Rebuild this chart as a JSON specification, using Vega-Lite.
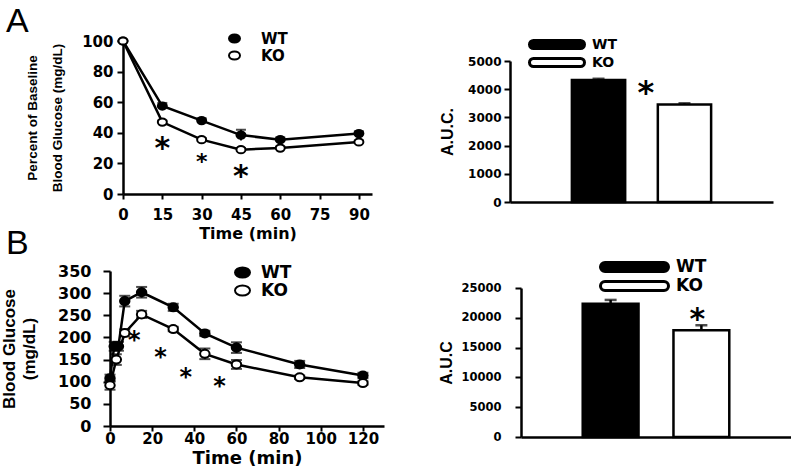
{
  "$schema": "https://vega.github.io/schema/vega-lite/v6.json",
  "background": "white",
  "padding": {"left": 0, "top": 5, "right": 0, "bottom": 0},
  "columns": 2,
  "bounds": "flush",
  "align": "each",
  "spacing": {"row": 69, "column": 126},
  "resolve": {"scale": {"fill": "independent"}, "legend": {"fill": "independent"}},
  "config": {
    "view": {"stroke": null},
    "font": "Liberation Sans",
    "axis": {"grid": false, "domainColor": "black", "domainWidth": 2.5, "tickColor": "black", "tickWidth": 2, "labelColor": "black", "titleColor": "black", "labelFlush": false, "labelOverlap": false},
    "legend": {"padding": 0}
  },
  "datasets": {
    "lineA": [
      {"t": 0, "g": "WT", "m": 100, "lo": 100, "hi": 100},
      {"t": 15, "g": "WT", "m": 57.5, "lo": 55.5, "hi": 59.5},
      {"t": 30, "g": "WT", "m": 48, "lo": 46.5, "hi": 49.5},
      {"t": 45, "g": "WT", "m": 38.5, "lo": 35, "hi": 42},
      {"t": 60, "g": "WT", "m": 35.5, "lo": 34, "hi": 37},
      {"t": 90, "g": "WT", "m": 39.5, "lo": 38, "hi": 41},
      {"t": 0, "g": "KO", "m": 100, "lo": 100, "hi": 100},
      {"t": 15, "g": "KO", "m": 47, "lo": 46, "hi": 48},
      {"t": 30, "g": "KO", "m": 35.5, "lo": 34.5, "hi": 36.5},
      {"t": 45, "g": "KO", "m": 29, "lo": 28, "hi": 30},
      {"t": 60, "g": "KO", "m": 30, "lo": 29, "hi": 31},
      {"t": 90, "g": "KO", "m": 34, "lo": 33, "hi": 35}
    ],
    "starsAbig": [{"t": 15, "m": 32}, {"t": 45, "m": 13.5}],
    "starsAsmall": [{"t": 30, "m": 22.5}],
    "barA": [{"g": "WT", "m": 4330, "lo": 4330, "hi": 4370}, {"g": "KO", "m": 3460, "lo": 3460, "hi": 3500}],
    "starA": [{"g": "KO", "m": 4000}],
    "lineB": [
      {"t": 0, "g": "WT", "m": 108, "lo": 100, "hi": 116},
      {"t": 2, "g": "WT", "m": 180, "lo": 170, "hi": 190},
      {"t": 4, "g": "WT", "m": 180, "lo": 170, "hi": 190},
      {"t": 7, "g": "WT", "m": 282, "lo": 270, "hi": 294},
      {"t": 15, "g": "WT", "m": 302, "lo": 290, "hi": 314},
      {"t": 30, "g": "WT", "m": 268, "lo": 260, "hi": 276},
      {"t": 45, "g": "WT", "m": 209, "lo": 203, "hi": 215},
      {"t": 60, "g": "WT", "m": 177, "lo": 165, "hi": 189},
      {"t": 90, "g": "WT", "m": 139, "lo": 131, "hi": 147},
      {"t": 120, "g": "WT", "m": 114, "lo": 108, "hi": 120},
      {"t": 0, "g": "KO", "m": 92, "lo": 82, "hi": 102},
      {"t": 3, "g": "KO", "m": 150, "lo": 138, "hi": 162},
      {"t": 7, "g": "KO", "m": 210, "lo": 202, "hi": 218},
      {"t": 15, "g": "KO", "m": 252, "lo": 244, "hi": 260},
      {"t": 30, "g": "KO", "m": 219, "lo": 214, "hi": 224},
      {"t": 45, "g": "KO", "m": 163, "lo": 151, "hi": 175},
      {"t": 60, "g": "KO", "m": 139, "lo": 129, "hi": 149},
      {"t": 90, "g": "KO", "m": 110, "lo": 106, "hi": 114},
      {"t": 120, "g": "KO", "m": 97, "lo": 93, "hi": 101}
    ],
    "starsB": [{"t": 11.5, "m": 200}, {"t": 24, "m": 162}, {"t": 36, "m": 116}, {"t": 52, "m": 97}],
    "barB": [{"g": "WT", "m": 22350, "lo": 22350, "hi": 23000}, {"g": "KO", "m": 17900, "lo": 17900, "hi": 18750}],
    "starB": [{"g": "KO", "m": 20300}]
  },
  "concat": [
    {
      "width": 263,
      "height": 153,
      "title": {"text": "A", "anchor": "start", "frame": "group", "orient": "top", "offset": 0, "dx": -104, "dy": 8, "font": "Liberation Sans", "fontSize": 34, "fontWeight": "normal", "color": "black"},
      "encoding": {
        "x": {"field": "t", "type": "quantitative", "title": "Time (min)", "scale": {"domain": [0, 95], "range": [13, 262], "nice": false, "zero": false},
          "axis": {"values": [0, 15, 30, 45, 60, 75, 90], "labelOverlap": false, "titleFont": "DejaVu Sans", "titleFontSize": 16, "titleFontWeight": "bold", "titlePadding": 3, "labelFont": "DejaVu Sans", "labelFontSize": 15, "labelFontWeight": "bold", "labelPadding": 8, "tickSize": 5}},
        "y": {"field": "m", "type": "quantitative", "title": ["Percent of Baseline", "Blood Glucose (mg/dL)"], "scale": {"domain": [0, 100], "nice": false},
          "axis": {"values": [0, 20, 40, 60, 80, 100], "labelOverlap": false, "offset": -13, "titleFont": "Liberation Sans", "titleFontSize": 13.5, "titleFontWeight": "bold", "titleLineHeight": 25, "titlePadding": 17, "labelFont": "DejaVu Sans", "labelFontSize": 15, "labelFontWeight": "bold", "labelPadding": 4, "tickSize": 6}}
      },
      "layer": [
        {"data": {"name": "lineA"}, "mark": {"type": "line", "color": "black", "strokeWidth": 2.5},
          "encoding": {"detail": {"field": "g"}}},
        {"data": {"name": "lineA"}, "mark": {"type": "rule", "color": "black", "strokeWidth": 2},
          "encoding": {"y": {"field": "lo", "type": "quantitative", "title": ["Percent of Baseline", "Blood Glucose (mg/dL)"], "scale": {"domain": [0, 100], "nice": false},
            "axis": {"values": [0, 20, 40, 60, 80, 100], "labelOverlap": false, "offset": -13, "titleFont": "Liberation Sans", "titleFontSize": 13.5, "titleFontWeight": "bold", "titleLineHeight": 25, "titlePadding": 17, "labelFont": "DejaVu Sans", "labelFontSize": 15, "labelFontWeight": "bold", "labelPadding": 4, "tickSize": 6}},
            "y2": {"field": "hi"}}},
        {"data": {"name": "lineA"}, "mark": {"type": "tick", "orient": "horizontal", "color": "black", "size": 10, "thickness": 2},
          "encoding": {"y": {"field": "hi", "type": "quantitative", "title": ["Percent of Baseline", "Blood Glucose (mg/dL)"], "scale": {"domain": [0, 100], "nice": false},
            "axis": {"values": [0, 20, 40, 60, 80, 100], "labelOverlap": false, "offset": -13, "titleFont": "Liberation Sans", "titleFontSize": 13.5, "titleFontWeight": "bold", "titleLineHeight": 25, "titlePadding": 17, "labelFont": "DejaVu Sans", "labelFontSize": 15, "labelFontWeight": "bold", "labelPadding": 4, "tickSize": 6}}}},
        {"data": {"name": "lineA"}, "mark": {"type": "point", "shape": "M-1,0A1,0.8,0,1,0,1,0A1,0.8,0,1,0,-1,0Z", "size": 81, "stroke": "black", "strokeWidth": 2, "opacity": 1},
          "encoding": {
            "fill": {"field": "g", "type": "nominal", "scale": {"domain": ["WT", "KO"], "range": ["black", "white"]},
              "legend": {"title": null, "orient": "none", "legendX": 117, "legendY": -10, "symbolType": "M-1,0A1,0.73,0,1,0,1,0A1,0.73,0,1,0,-1,0Z", "symbolSize": 121, "symbolStrokeColor": "black", "symbolStrokeWidth": 2, "symbolOpacity": 1, "labelFont": "DejaVu Sans", "labelFontWeight": "bold", "labelFontSize": 15, "labelColor": "black", "labelOffset": 19, "rowPadding": 0}}}},
        {"data": {"name": "starsAbig"}, "mark": {"type": "text", "text": "*", "font": "DejaVu Sans", "fontWeight": "bold", "fontSize": 30, "baseline": "alphabetic", "dy": 13, "color": "black"}},
        {"data": {"name": "starsAsmall"}, "mark": {"type": "text", "text": "*", "font": "DejaVu Sans", "fontWeight": "bold", "fontSize": 22, "baseline": "alphabetic", "dy": 9.5, "color": "black"}}
      ]
    },
    {
      "width": 263,
      "height": 161,
      "encoding": {
        "x": {"field": "g", "type": "nominal", "title": null, "sort": ["WT", "KO"], "scale": {"domain": ["WT", "KO"], "paddingInner": 0.38, "paddingOuter": 0.72},
          "axis": {"labels": false, "ticks": false}},
        "y": {"field": "m", "type": "quantitative", "title": "A.U.C.", "scale": {"domain": [0, 5000], "range": [161, 20], "nice": false},
          "axis": {"values": [0, 1000, 2000, 3000, 4000, 5000], "format": "d", "labelOverlap": false, "titleFont": "Liberation Sans", "titleFontSize": 16, "titleFontWeight": "bold", "titlePadding": 12, "labelFont": "DejaVu Sans", "labelFontSize": 12, "labelFontWeight": "bold", "labelPadding": 3, "tickSize": 6}}
      },
      "layer": [
        {"data": {"name": "barA"}, "mark": {"type": "bar", "stroke": "black", "strokeWidth": 2.5},
          "encoding": {
            "fill": {"field": "g", "type": "nominal", "scale": {"domain": ["WT", "KO"], "range": ["black", "white"]},
              "legend": {"title": null, "orient": "none", "legendX": 39.5, "legendY": -4, "symbolType": "M-3.916,-0.667L3.916,-0.667A0.667,0.667,0,0,1,3.916,0.667L-3.916,0.667A0.667,0.667,0,0,1,-3.916,-0.667Z", "symbolSize": 144, "symbolStrokeColor": "black", "symbolStrokeWidth": 3, "symbolOpacity": 1, "labelFont": "DejaVu Sans", "labelFontWeight": "bold", "labelFontSize": 14, "labelColor": "black", "labelOffset": 27.5, "rowPadding": -9}}}},
        {"data": {"name": "barA"}, "mark": {"type": "rule", "color": "black", "strokeWidth": 2.5},
          "encoding": {"y": {"field": "lo", "type": "quantitative", "title": "A.U.C.", "scale": {"domain": [0, 5000], "range": [161, 20], "nice": false},
            "axis": {"values": [0, 1000, 2000, 3000, 4000, 5000], "format": "d", "labelOverlap": false, "titleFont": "Liberation Sans", "titleFontSize": 16, "titleFontWeight": "bold", "titlePadding": 12, "labelFont": "DejaVu Sans", "labelFontSize": 12, "labelFontWeight": "bold", "labelPadding": 3, "tickSize": 6}},
            "y2": {"field": "hi"}}},
        {"data": {"name": "barA"}, "mark": {"type": "tick", "orient": "horizontal", "color": "black", "size": 12, "thickness": 2.5},
          "encoding": {"y": {"field": "hi", "type": "quantitative", "title": "A.U.C.", "scale": {"domain": [0, 5000], "range": [161, 20], "nice": false},
            "axis": {"values": [0, 1000, 2000, 3000, 4000, 5000], "format": "d", "labelOverlap": false, "titleFont": "Liberation Sans", "titleFontSize": 16, "titleFontWeight": "bold", "titlePadding": 12, "labelFont": "DejaVu Sans", "labelFontSize": 12, "labelFontWeight": "bold", "labelPadding": 3, "tickSize": 6}}}},
        {"data": {"name": "starA"}, "mark": {"type": "text", "text": "*", "font": "DejaVu Sans", "fontWeight": "bold", "fontSize": 32, "baseline": "alphabetic", "dy": 14, "dx": -12, "color": "black"},
          "encoding": {"x": {"field": "g", "type": "nominal", "title": null, "bandPosition": 0, "sort": ["WT", "KO"], "scale": {"domain": ["WT", "KO"], "paddingInner": 0.38, "paddingOuter": 0.72}, "axis": {"labels": false, "ticks": false}}}}
      ]
    },
    {
      "width": 274,
      "height": 155,
      "title": {"text": "B", "anchor": "start", "frame": "group", "orient": "top", "offset": 0, "dx": -104, "dy": -2, "font": "Liberation Sans", "fontSize": 34, "fontWeight": "normal", "color": "black"},
      "encoding": {
        "x": {"field": "t", "type": "quantitative", "title": "Time (min)", "scale": {"domain": [0, 130], "nice": false, "zero": false},
          "axis": {"values": [0, 20, 40, 60, 80, 100, 120], "labelOverlap": false, "titleFont": "DejaVu Sans", "titleFontSize": 18, "titleFontWeight": "bold", "titlePadding": 3, "labelFont": "DejaVu Sans", "labelFontSize": 15, "labelFontWeight": "bold", "labelPadding": 0, "tickSize": 5}},
        "y": {"field": "m", "type": "quantitative", "title": ["Blood Glucose", "(mg/dL)"], "scale": {"domain": [0, 350], "nice": false},
          "axis": {"values": [0, 50, 100, 150, 200, 250, 300, 350], "labelOverlap": false, "titleFont": "Liberation Sans", "titleFontSize": 17, "titleFontWeight": "bold", "titleLineHeight": 20, "titlePadding": 19, "labelFont": "DejaVu Sans", "labelFontSize": 16, "labelFontWeight": "bold", "labelPadding": 12, "tickSize": 7}}
      },
      "layer": [
        {"data": {"name": "lineB"}, "mark": {"type": "line", "color": "black", "strokeWidth": 2.5},
          "encoding": {"detail": {"field": "g"}}},
        {"data": {"name": "lineB"}, "mark": {"type": "rule", "color": "black", "strokeWidth": 2},
          "encoding": {"y": {"field": "lo", "type": "quantitative", "title": ["Blood Glucose", "(mg/dL)"], "scale": {"domain": [0, 350], "nice": false},
            "axis": {"values": [0, 50, 100, 150, 200, 250, 300, 350], "labelOverlap": false, "titleFont": "Liberation Sans", "titleFontSize": 17, "titleFontWeight": "bold", "titleLineHeight": 20, "titlePadding": 19, "labelFont": "DejaVu Sans", "labelFontSize": 16, "labelFontWeight": "bold", "labelPadding": 12, "tickSize": 7}},
            "y2": {"field": "hi"}}},
        {"data": {"name": "lineB"}, "mark": {"type": "tick", "orient": "horizontal", "color": "black", "size": 11, "thickness": 2},
          "encoding": {"y": {"field": "hi", "type": "quantitative", "title": ["Blood Glucose", "(mg/dL)"], "scale": {"domain": [0, 350], "nice": false},
            "axis": {"values": [0, 50, 100, 150, 200, 250, 300, 350], "labelOverlap": false, "titleFont": "Liberation Sans", "titleFontSize": 17, "titleFontWeight": "bold", "titleLineHeight": 20, "titlePadding": 19, "labelFont": "DejaVu Sans", "labelFontSize": 16, "labelFontWeight": "bold", "labelPadding": 12, "tickSize": 7}}}},
        {"data": {"name": "lineB"}, "mark": {"type": "tick", "orient": "horizontal", "color": "black", "size": 11, "thickness": 2},
          "encoding": {"y": {"field": "lo", "type": "quantitative", "title": ["Blood Glucose", "(mg/dL)"], "scale": {"domain": [0, 350], "nice": false},
            "axis": {"values": [0, 50, 100, 150, 200, 250, 300, 350], "labelOverlap": false, "titleFont": "Liberation Sans", "titleFontSize": 17, "titleFontWeight": "bold", "titleLineHeight": 20, "titlePadding": 19, "labelFont": "DejaVu Sans", "labelFontSize": 16, "labelFontWeight": "bold", "labelPadding": 12, "tickSize": 7}}}},
        {"data": {"name": "lineB"}, "mark": {"type": "point", "shape": "M-1,0A1,0.85,0,1,0,1,0A1,0.85,0,1,0,-1,0Z", "size": 90, "stroke": "black", "strokeWidth": 2, "opacity": 1},
          "encoding": {
            "fill": {"field": "g", "type": "nominal", "scale": {"domain": ["WT", "KO"], "range": ["black", "white"]},
              "legend": {"title": null, "orient": "none", "legendX": 124, "legendY": -7, "symbolType": "M-1,0A1,0.67,0,1,0,1,0A1,0.67,0,1,0,-1,0Z", "symbolSize": 225, "symbolStrokeColor": "black", "symbolStrokeWidth": 2, "symbolOpacity": 1, "labelFont": "DejaVu Sans", "labelFontWeight": "bold", "labelFontSize": 17, "labelColor": "black", "labelOffset": 10, "rowPadding": -1}}}},
        {"data": {"name": "starsB"}, "mark": {"type": "text", "text": "*", "font": "DejaVu Sans", "fontWeight": "bold", "fontSize": 24, "baseline": "alphabetic", "dy": 10.5, "color": "black"}}
      ]
    },
    {
      "width": 281,
      "height": 166,
      "encoding": {
        "x": {"field": "g", "type": "nominal", "title": null, "sort": ["WT", "KO"], "scale": {"domain": ["WT", "KO"], "range": [11, 281], "paddingInner": 0.385, "paddingOuter": 0.68},
          "axis": {"labels": false, "ticks": false}},
        "y": {"field": "m", "type": "quantitative", "title": "A.U.C", "scale": {"domain": [0, 25000], "range": [166, 17], "nice": false},
          "axis": {"values": [0, 5000, 10000, 15000, 20000, 25000], "format": "d", "labelOverlap": false, "offset": -11, "titleFont": "Liberation Sans", "titleFontSize": 16, "titleFontWeight": "bold", "titlePadding": 6, "labelFont": "DejaVu Sans", "labelFontSize": 11.5, "labelFontWeight": "bold", "labelPadding": 14, "tickSize": 6}}
      },
      "layer": [
        {"data": {"name": "barB"}, "mark": {"type": "bar", "stroke": "black", "strokeWidth": 2.5},
          "encoding": {
            "fill": {"field": "g", "type": "nominal", "scale": {"domain": ["WT", "KO"], "range": ["black", "white"]},
              "legend": {"title": null, "orient": "none", "legendX": 116, "legendY": -12.5, "symbolType": "M-4.917,-0.75L4.917,-0.75A0.75,0.75,0,0,1,4.917,0.75L-4.917,0.75A0.75,0.75,0,0,1,-4.917,-0.75Z", "symbolSize": 144, "symbolStrokeColor": "black", "symbolStrokeWidth": 3, "symbolOpacity": 1, "labelFont": "DejaVu Sans", "labelFontWeight": "bold", "labelFontSize": 17, "labelColor": "black", "labelOffset": 33, "rowPadding": -9}}}},
        {"data": {"name": "barB"}, "mark": {"type": "rule", "color": "black", "strokeWidth": 2.5},
          "encoding": {"y": {"field": "lo", "type": "quantitative", "title": "A.U.C", "scale": {"domain": [0, 25000], "range": [166, 17], "nice": false},
            "axis": {"values": [0, 5000, 10000, 15000, 20000, 25000], "format": "d", "labelOverlap": false, "offset": -11, "titleFont": "Liberation Sans", "titleFontSize": 16, "titleFontWeight": "bold", "titlePadding": 6, "labelFont": "DejaVu Sans", "labelFontSize": 11.5, "labelFontWeight": "bold", "labelPadding": 14, "tickSize": 6}},
            "y2": {"field": "hi"}}},
        {"data": {"name": "barB"}, "mark": {"type": "tick", "orient": "horizontal", "color": "black", "size": 12, "thickness": 2.5},
          "encoding": {"y": {"field": "hi", "type": "quantitative", "title": "A.U.C", "scale": {"domain": [0, 25000], "range": [166, 17], "nice": false},
            "axis": {"values": [0, 5000, 10000, 15000, 20000, 25000], "format": "d", "labelOverlap": false, "offset": -11, "titleFont": "Liberation Sans", "titleFontSize": 16, "titleFontWeight": "bold", "titlePadding": 6, "labelFont": "DejaVu Sans", "labelFontSize": 11.5, "labelFontWeight": "bold", "labelPadding": 14, "tickSize": 6}}}},
        {"data": {"name": "starB"}, "mark": {"type": "text", "text": "*", "font": "DejaVu Sans", "fontWeight": "bold", "fontSize": 30, "baseline": "alphabetic", "dy": 13, "dx": -4, "color": "black"}}
      ]
    }
  ]
}
